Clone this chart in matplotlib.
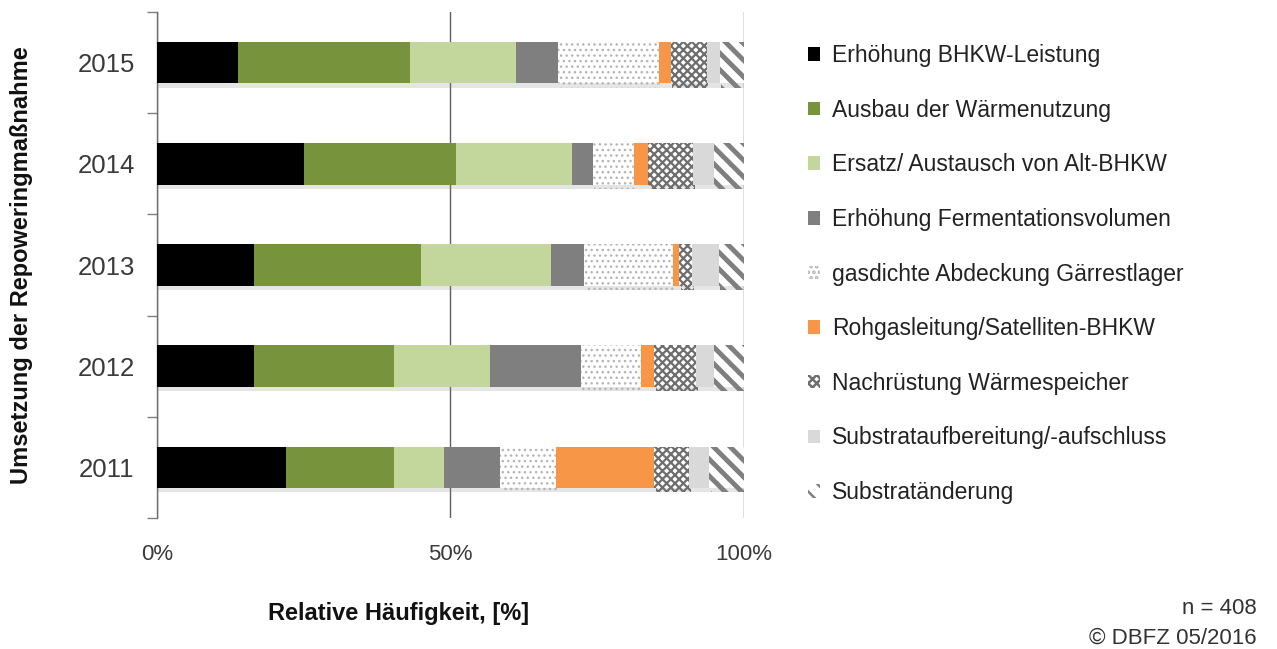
import matplotlib
matplotlib.use("Agg")
import matplotlib.pyplot as plt
import matplotlib.patheffects as pe
from matplotlib.patches import Patch
import numpy as np

years = ["2011", "2012", "2013", "2014", "2015"]
categories = [
    "Erhöhung BHKW-Leistung",
    "Ausbau der Wärmenutzung",
    "Ersatz/ Austausch von Alt-BHKW",
    "Erhöhung Fermentationsvolumen",
    "gasdichte Abdeckung Gärrestlager",
    "Rohgasleitung/Satelliten-BHKW",
    "Nachrüstung Wärmespeicher",
    "Substrataufbereitung/-aufschluss",
    "Substratänderung",
]
# values in % per year (order: 2011..2015)
erhoehung_bhkw = [22.0, 16.5, 16.5, 25.0, 13.8]
ausbau_waerme = [18.3, 23.8, 28.4, 26.0, 29.3]
ersatz_alt = [8.6, 16.4, 22.3, 19.7, 18.1]
fermentation = [9.6, 15.5, 5.5, 3.5, 7.1]
gaerrest = [9.4, 10.2, 15.2, 7.1, 17.2]
rohgas = [16.8, 2.3, 1.1, 2.3, 2.0]
waermespeicher = [6.0, 7.2, 2.2, 7.8, 6.2]
substrataufb = [3.4, 3.0, 4.5, 3.5, 2.2]
substrataend = [5.9, 5.1, 4.3, 5.1, 4.1]
series = [erhoehung_bhkw, ausbau_waerme, ersatz_alt, fermentation, gaerrest,
          rohgas, waermespeicher, substrataufb, substrataend]

styles = [
    dict(fc="#000000", ec="#000000", hatch=None, hlw=1.0),
    dict(fc="#77933C", ec="#77933C", hatch=None, hlw=1.0),
    dict(fc="#C3D69B", ec="#C3D69B", hatch=None, hlw=1.0),
    dict(fc="#7F7F7F", ec="#7F7F7F", hatch=None, hlw=1.0),
    dict(fc="#FFFFFF", ec="#B5B5B5", hatch="...", hlw=1.0),
    dict(fc="#F79646", ec="#F79646", hatch=None, hlw=1.0),
    dict(fc="#FFFFFF", ec="#6E6E6E", hatch="xxxx", hlw=1.6),
    dict(fc="#D9D9D9", ec="#D9D9D9", hatch=None, hlw=1.0),
    dict(fc="#FFFFFF", ec="#7F7F7F", hatch="\\\\", hlw=3.5),
]

plt.rcParams["font.family"] = ["Liberation Sans", "DejaVu Sans"]
fig = plt.figure(figsize=(12.77, 6.49), dpi=100)
ax = fig.add_axes([0.1229, 0.2018, 0.4597, 0.7797])

y = np.arange(len(years))
left = np.zeros(len(years))
handles = []
for vals, st, lab in zip(series, styles, categories):
    with plt.rc_context({"hatch.linewidth": st["hlw"]}):
        bars = ax.barh(y, vals, left=left, height=0.41, color=st["fc"],
                       edgecolor=st["ec"], linewidth=0, hatch=st["hatch"], zorder=3)
        for b in bars:
            b.set_path_effects([pe.SimplePatchShadow(offset=(1, -3), shadow_rgbFace="#8a8a8a", alpha=0.22), pe.Normal()])
        h = Patch(facecolor=st["fc"], edgecolor=st["ec"], linewidth=0, hatch=st["hatch"], label=lab)
    handles.append(h)
    left += np.array(vals)

ax.set_xlim(0, 100)
ax.set_ylim(-0.5, 4.5)
ax.set_xticks([0, 50, 100])
ax.set_xticklabels(["0%", "50%", "100%"], fontsize=16, color="#3a3a3a")
ax.set_yticks(y)
ax.set_yticklabels(years, fontsize=18.5, color="#3a3a3a")
ax.set_yticks(np.arange(-0.5, 5.0, 1.0), minor=True)
ax.tick_params(axis="y", which="major", length=0, pad=16)
ax.tick_params(axis="y", which="minor", length=7, color="#7F7F7F", width=1)
ax.tick_params(axis="x", length=0, pad=19)
for s in ["top", "right", "bottom"]:
    ax.spines[s].set_visible(False)
ax.spines["left"].set_color("#6E6E6E")
ax.spines["left"].set_linewidth(1)
ax.grid(axis="x", color="#5E5E5E", linewidth=1, zorder=1)
ax.set_axisbelow(True)

fig.text(0.312, 0.055, "Relative Häufigkeit, [%]", fontsize=17, fontweight="bold",
         ha="center", va="center", color="#111111")
fig.text(0.017, 0.592, "Umsetzung der Repoweringmaßnahme", fontsize=17, fontweight="bold",
         rotation=90, ha="center", va="center", color="#111111")
fig.text(0.984, 0.063, "n = 408", fontsize=16, ha="right", va="center", color="#333333")
fig.text(0.984, 0.017, "© DBFZ 05/2016", fontsize=16, ha="right", va="center", color="#333333")

with plt.rc_context({"hatch.linewidth": 1.8}):
    fig.legend(handles=handles, loc="upper left", bbox_to_anchor=(0.6257, 0.9462),
               borderaxespad=0, frameon=False, fontsize=16.5, handlelength=0.53, handleheight=0.53,
               handletextpad=0.5, labelspacing=1.38, labelcolor="#222222")

fig.savefig("out.png", dpi=100)
